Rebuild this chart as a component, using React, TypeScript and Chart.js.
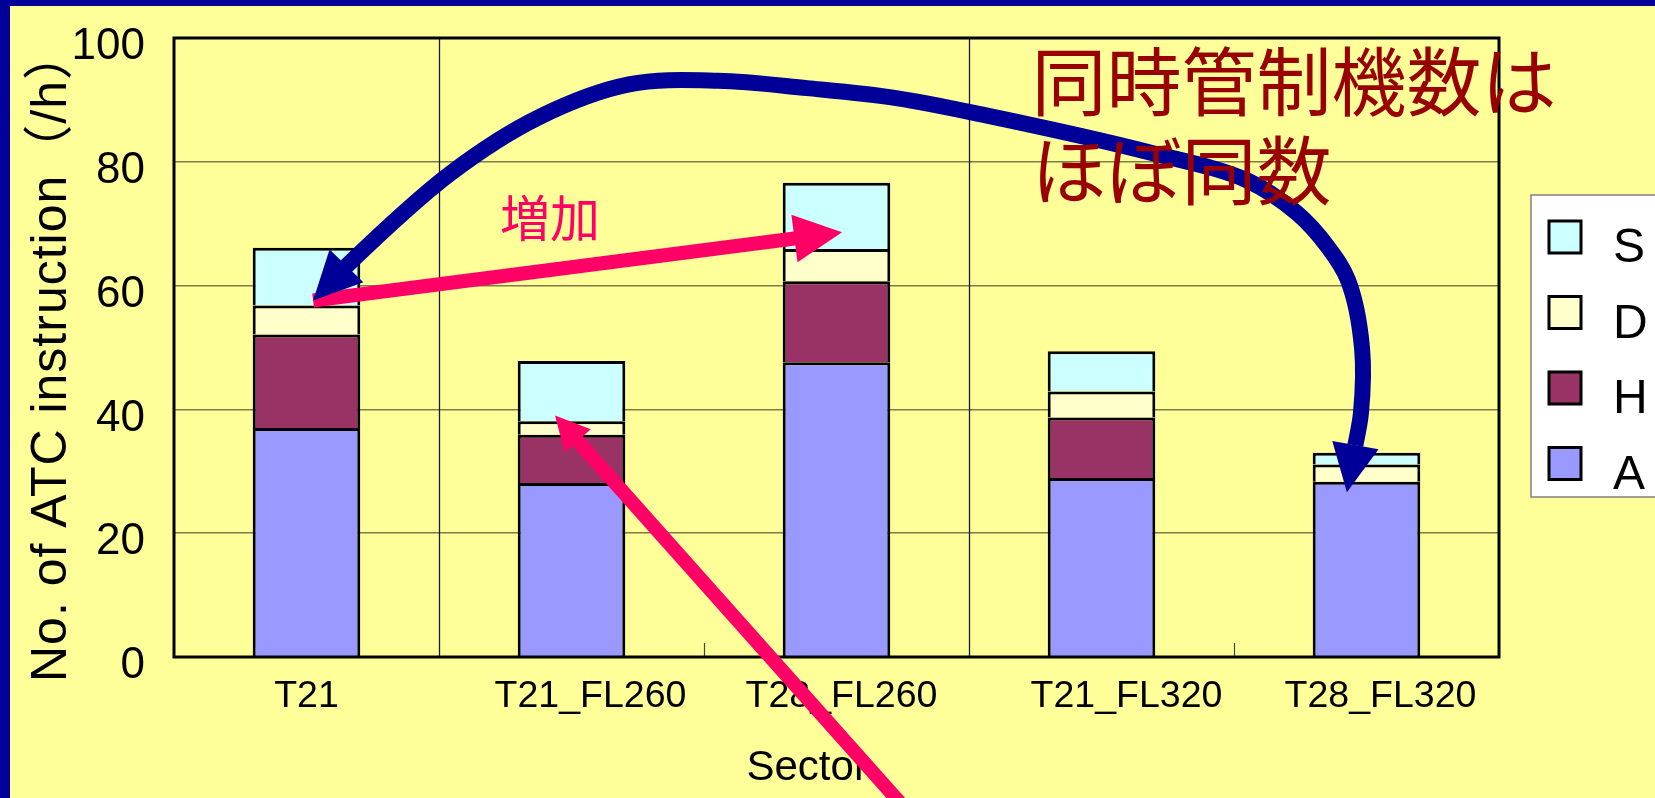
import { useEffect, useRef } from 'react';
import { Chart, registerables } from 'chart.js';

Chart.register(...registerables);

// Sectors and ATC instruction counts per hour, by instruction type
const sectors = ['T21', 'T21_FL260', 'T28_FL260', 'T21_FL320', 'T28_FL320'];
const seriesA = [37.0, 28.1, 47.6, 28.9, 28.3];
const seriesH = [15.1, 7.8, 13.1, 9.8, 0];
const seriesD = [4.7, 2.2, 5.2, 4.2, 2.8];
const seriesS = [9.3, 9.7, 10.7, 6.5, 1.9];
const yTickValues = [0, 20, 40, 60, 80, 100];

const seriesNames = ['A', 'H', 'D', 'S'];
const seriesColors = ['#9999FF', '#993366', '#FFFFCC', '#CCFFFF'];

// horizontal nudge of each category label, in pixels
const xLabelShift = [0, 19, 5, 25, 14];

// Annotation geometry in data space: [category index, value]
const navyTipStart: [number, number] = [0.025, 57.6];
const navyArc: [number, number][] = [
  [0.149, 63.1],
  [0.542, 78.1],
  [0.877, 87.2],
  [1.217, 92.5],
  [1.553, 93.1],
  [1.889, 91.9],
  [2.225, 90.3],
  [2.564, 87.5],
  [3.183, 81.5],
  [3.549, 77.0],
  [3.738, 71.7],
  [3.855, 66.2],
  [3.93, 60.9],
  [3.983, 50.0],
  [3.979, 39.4],
  [3.958, 34.2],
];
const navyTipEnd: [number, number] = [3.926, 26.6];
const riseArrow: [number, number][] = [[0.025, 57.6], [2.021, 68.6]];
const fl260Arrow: [number, number][] = [[2.27, -25], [0.938, 39.0]];

const riseLabel = '増加';
const riseLabelAt: [number, number] = [0.919, 70.9];
const noteLines = ['同時管制機数は', 'ほぼ同数'];
const noteAt: [number, number] = [2.736, 93.0];
const noteLineStep = 14.4;

const yTitle = 'No. of ATC instruction（/h）';
const xTitle = 'Sector';

const LATIN = '"Liberation Sans", Arial';
const CJK = '"Noto Sans CJK JP"';

type P = { x: number; y: number };

function toPx(chart: any, d: [number, number]): P {
  return { x: chart.scales.x.getPixelForValue(d[0]), y: chart.scales.y.getPixelForValue(d[1]) };
}

function drawHead(ctx: CanvasRenderingContext2D, tip: P, from: P, len: number, half: number, color: string) {
  const dx = tip.x - from.x;
  const dy = tip.y - from.y;
  const n = Math.hypot(dx, dy) || 1;
  const ux = dx / n;
  const uy = dy / n;
  const bx = tip.x - ux * len;
  const by = tip.y - uy * len;
  ctx.beginPath();
  ctx.moveTo(tip.x, tip.y);
  ctx.lineTo(bx - uy * half, by + ux * half);
  ctx.lineTo(bx + uy * half, by - ux * half);
  ctx.closePath();
  ctx.fillStyle = color;
  ctx.fill();
}

function straightArrow(ctx: CanvasRenderingContext2D, tail: P, tip: P, width: number, len: number, half: number, color: string) {
  const dx = tip.x - tail.x;
  const dy = tip.y - tail.y;
  const n = Math.hypot(dx, dy);
  const ux = dx / n;
  const uy = dy / n;
  ctx.beginPath();
  ctx.moveTo(tail.x, tail.y);
  ctx.lineTo(tip.x - ux * (len - 2), tip.y - uy * (len - 2));
  ctx.strokeStyle = color;
  ctx.lineWidth = width;
  ctx.lineCap = 'butt';
  ctx.stroke();
  drawHead(ctx, tip, tail, len, half, color);
}

// centripetal Catmull-Rom through the points, with phantom end points
function smoothPath(ctx: CanvasRenderingContext2D, ext: P[]) {
  const d = (a: P, b: P) => Math.sqrt(Math.hypot(b.x - a.x, b.y - a.y)) || 1e-6;
  ctx.moveTo(ext[1].x, ext[1].y);
  for (let i = 1; i < ext.length - 2; i++) {
    const p0 = ext[i - 1];
    const p1 = ext[i];
    const p2 = ext[i + 1];
    const p3 = ext[i + 2];
    const d1 = d(p0, p1);
    const d2 = d(p1, p2);
    const d3 = d(p2, p3);
    const m1x = d2 * ((p1.x - p0.x) / d1 - (p2.x - p0.x) / (d1 + d2) + (p2.x - p1.x) / d2);
    const m1y = d2 * ((p1.y - p0.y) / d1 - (p2.y - p0.y) / (d1 + d2) + (p2.y - p1.y) / d2);
    const m2x = d2 * ((p2.x - p1.x) / d2 - (p3.x - p1.x) / (d2 + d3) + (p3.x - p2.x) / d3);
    const m2y = d2 * ((p2.y - p1.y) / d2 - (p3.y - p1.y) / (d2 + d3) + (p3.y - p2.y) / d3);
    ctx.bezierCurveTo(p1.x + m1x / 3, p1.y + m1y / 3, p2.x - m2x / 3, p2.y - m2y / 3, p2.x, p2.y);
  }
}

const decorations = {
  id: 'decorations',
  beforeDatasetsDraw(chart: any) {
    const ctx: CanvasRenderingContext2D = chart.ctx;
    const { top, bottom } = chart.chartArea;
    const xs = chart.scales.x;
    ctx.save();
    for (let i = 1; i < sectors.length; i++) {
      const bx = Math.round((xs.getPixelForValue(i - 1) + xs.getPixelForValue(i)) / 2) + 0.5;
      ctx.beginPath();
      if (i % 2 === 1) {
        ctx.moveTo(bx, top);
        ctx.lineTo(bx, bottom);
        ctx.strokeStyle = '#1a1a1a';
        ctx.lineWidth = 1.3;
      } else {
        ctx.moveTo(bx, bottom);
        ctx.lineTo(bx, bottom - 14);
        ctx.strokeStyle = '#444';
        ctx.lineWidth = 1.2;
      }
      ctx.stroke();
    }
    ctx.restore();
  },
  afterDatasetsDraw(chart: any) {
    const ctx: CanvasRenderingContext2D = chart.ctx;
    const { left, right, top, bottom } = chart.chartArea;
    ctx.save();
    ctx.strokeStyle = '#000';
    ctx.lineWidth = 3;
    ctx.strokeRect(left, top, right - left, bottom - top);
    ctx.restore();
  },
  afterDraw(chart: any) {
    const ctx: CanvasRenderingContext2D = chart.ctx;
    const { left, right, top, bottom } = chart.chartArea;
    const xs = chart.scales.x;
    ctx.save();

    // category labels
    ctx.fillStyle = '#000';
    ctx.font = `37.5px ${LATIN}, sans-serif`;
    ctx.textAlign = 'center';
    ctx.textBaseline = 'alphabetic';
    chart.data.labels.forEach((lab: string, i: number) => {
      ctx.fillText(lab, xs.getPixelForValue(i) + xLabelShift[i], bottom + 50);
    });

    // axis titles
    ctx.font = `42px ${LATIN}, sans-serif`;
    ctx.textAlign = 'left';
    ctx.fillText(xTitle, (left + right) / 2 - 90, bottom + 123);

    ctx.save();
    ctx.translate(42, (top + bottom) / 2 + 8);
    ctx.rotate(-Math.PI / 2);
    ctx.font = `50px ${LATIN}, ${CJK}, sans-serif`;
    (ctx as any).letterSpacing = '1px';
    ctx.textAlign = 'center';
    ctx.textBaseline = 'middle';
    ctx.fillText(yTitle, 0, 0);
    ctx.restore();
    (ctx as any).letterSpacing = '0px';

    // legend box, series listed top-down in reverse stacking order
    const lx = right + 32;
    const ly = top + 157;
    ctx.fillStyle = '#FFFFFF';
    ctx.fillRect(lx, ly, 200, 302);
    ctx.strokeStyle = '#808080';
    ctx.lineWidth = 1.5;
    ctx.strokeRect(lx, ly, 200, 302);
    const ds = chart.data.datasets;
    for (let k = 0; k < ds.length; k++) {
      const d = ds[ds.length - 1 - k];
      const cy = ly + 42 + k * 75.5;
      ctx.fillStyle = d.backgroundColor;
      ctx.fillRect(lx + 18, cy - 16, 32, 32);
      ctx.strokeStyle = '#000';
      ctx.lineWidth = 3;
      ctx.strokeRect(lx + 18, cy - 16, 32, 32);
      ctx.fillStyle = '#000';
      ctx.font = `48px ${LATIN}, sans-serif`;
      ctx.textAlign = 'left';
      ctx.textBaseline = 'alphabetic';
      ctx.fillText(d.label, lx + 82, cy + 25);
    }

    // rising-count arrow between T21 and T28_FL260
    straightArrow(ctx, toPx(chart, riseArrow[0]), toPx(chart, riseArrow[1]), 14, 48, 24, '#FF0066');

    // curved double-headed arrow linking T21 and T28_FL320
    const pts = navyArc.map((d) => toPx(chart, d));
    const t0 = toPx(chart, navyTipStart);
    const t1 = toPx(chart, navyTipEnd);
    ctx.beginPath();
    smoothPath(ctx, [t0, ...pts, t1]);
    ctx.strokeStyle = '#000099';
    ctx.lineWidth = 16;
    ctx.lineCap = 'butt';
    ctx.lineJoin = 'round';
    ctx.stroke();
    drawHead(ctx, t0, pts[0], 48, 23.5, '#000099');
    drawHead(ctx, t1, pts[pts.length - 1], 48, 23.5, '#000099');

    // annotation texts
    ctx.fillStyle = '#FF0066';
    ctx.font = `50px ${CJK}, sans-serif`;
    ctx.textAlign = 'center';
    ctx.textBaseline = 'middle';
    const rl = toPx(chart, riseLabelAt);
    ctx.fillText(riseLabel, rl.x, rl.y);

    ctx.fillStyle = '#990000';
    ctx.font = `75px ${CJK}, sans-serif`;
    ctx.textAlign = 'left';
    noteLines.forEach((line, i) => {
      const p = toPx(chart, [noteAt[0], noteAt[1] - i * noteLineStep]);
      ctx.fillText(line, p.x, p.y);
    });

    // arrow pointing at the T21_FL260 bar
    straightArrow(ctx, toPx(chart, fl260Arrow[0]), toPx(chart, fl260Arrow[1]), 14, 34, 17.5, '#FF0066');

    ctx.restore();
  },
};

export default function App() {
  const canvasRef = useRef<HTMLCanvasElement | null>(null);

  useEffect(() => {
    const canvas = canvasRef.current;
    if (!canvas) return;
    const values = [seriesA, seriesH, seriesD, seriesS];
    const chart = new Chart(canvas, {
      type: 'bar',
      data: {
        labels: sectors,
        datasets: values.map((v, i) => ({
          label: seriesNames[i],
          data: v,
          backgroundColor: seriesColors[i],
          borderColor: '#000000',
          borderWidth: 3,
          borderSkipped: 'start' as const,
          barPercentage: 0.406,
          categoryPercentage: 1,
        })),
      },
      options: {
        responsive: false,
        animation: false,
        devicePixelRatio: 1,
        layout: { padding: { top: 32, right: 156, left: 0, bottom: 0 } },
        plugins: {
          legend: { display: false },
          tooltip: { enabled: false },
        },
        scales: {
          x: {
            stacked: true,
            grid: { display: false },
            border: { display: false },
            ticks: { display: false },
            afterFit(scale: any) {
              scale.height = 141;
              scale.paddingLeft = 0;
              scale.paddingRight = 0;
            },
          },
          y: {
            stacked: true,
            min: 0,
            max: 100,
            afterBuildTicks(scale: any) {
              scale.ticks = yTickValues.map((v) => ({ value: v }));
            },
            grid: {
              drawTicks: false,
              tickLength: 0,
              lineWidth: 1.5,
              color: (c: any) =>
                c.tick && (c.tick.value === 0 || c.tick.value === 100) ? 'rgba(0,0,0,0)' : '#7d7d4a',
            },
            border: { display: false },
            ticks: {
              color: '#000',
              font: { family: LATIN, size: 44 },
              padding: 29,
              labelOffset: 9,
            },
            afterFit(scale: any) {
              scale.width = 164;
              scale.paddingTop = 0;
              scale.paddingBottom = 0;
            },
          },
        },
      },
      plugins: [decorations],
    });
    return () => chart.destroy();
  }, []);

  return (
    <div
      style={{
        position: 'fixed',
        left: 0,
        top: 0,
        width: 1655,
        height: 798,
        background: '#000099',
        overflow: 'hidden',
      }}
    >
      <canvas
        ref={canvasRef}
        width={1645}
        height={792}
        style={{ position: 'absolute', left: 10, top: 6, width: 1645, height: 792, background: '#FFFF99' }}
      />
    </div>
  );
}
